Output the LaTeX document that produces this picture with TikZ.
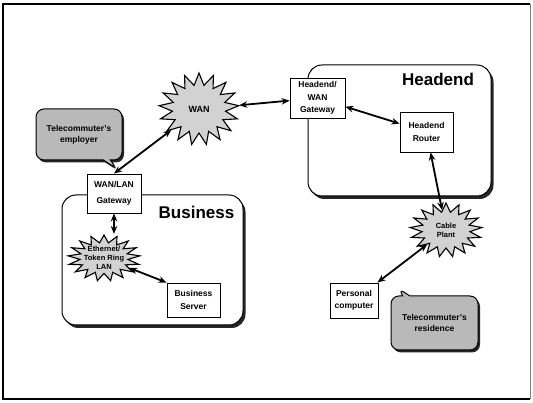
\documentclass[tikz,border=0pt]{standalone}
\usepackage{fontspec}
\setmainfont{Liberation Sans}
\usetikzlibrary{shapes.geometric,shapes.callouts,shadows,arrows.meta}

\begin{document}
\begin{tikzpicture}[x=1pt, y=-1pt,
    box/.style={draw, line width=0.9pt, fill=white, align=center, inner sep=1pt,
      font=\bfseries\fontsize{8.5}{12.5}\selectfont},
    site/.style={draw, line width=1pt, rounded corners=14pt, fill=white,
      drop shadow={shadow xshift=2.5pt, shadow yshift=-3pt, fill=black!85, opacity=1}},
    sitename/.style={font=\bfseries\fontsize{17}{19}\selectfont},
    burst/.style={star, star points=17, star point ratio=1.5, draw, line width=1.1pt,
      fill=gray!35, inner sep=0pt},
    bursttext/.style={align=center, font=\bfseries\fontsize{7.5}{9}\selectfont},
    note/.style={rectangle callout, rounded corners=8pt, draw, line width=1pt, fill=gray!55,
      align=center, font=\bfseries\fontsize{8.5}{11}\selectfont,
      drop shadow={shadow xshift=2pt, shadow yshift=-2.5pt, fill=black!85, opacity=1}},
    link/.style={{Stealth[length=8pt,width=6.5pt]}-{Stealth[length=8pt,width=6.5pt]}, line width=1.8pt}]
  \useasboundingbox (0,0) rectangle (533,403);
  % frame
  \draw[line width=1.2pt] (530,4) -- (3,4) -- (3,399) -- (530,399);
  \draw[gray, line width=0.5pt] (530,4) -- (530,399);

  % sites
  \node[site, minimum width=183pt, minimum height=131pt] (headend) at (399.5,130.5) {};
  \node[sitename] (headend-l) at (438,79) {Headend};
  \node[site, minimum width=181pt, minimum height=130pt] (business) at (152.5,260) {};
  \node[sitename] (business-l) at (196.5,212) {Business};

  % callouts
  \node[note, minimum width=86pt, minimum height=51pt,
    callout absolute pointer={(117,169)}] (worknote) at (79,134.5) {Telecommuter's\\employer};
  \node[note, minimum width=87pt, minimum height=54pt,
    callout absolute pointer={(398,288)}] (homenote) at (434.5,323) {Telecommuter's\\residence};

  % clouds
  \begin{scope}[shift={(199,109)}, yscale=0.9, transform shape]
    \node[burst, minimum size=80pt] (wan) at (0,0) {};
  \end{scope}
  \begin{scope}[shift={(446,230)}, yscale=0.75, transform shape]
    \node[burst, minimum size=72pt] (cable) at (0,0) {};
  \end{scope}
  \begin{scope}[shift={(104,258)}, yscale=0.64, transform shape]
    \node[burst, minimum size=72pt] (lan) at (0,0) {};
  \end{scope}
  \node[bursttext, font=\bfseries\fontsize{9}{11}\selectfont] (wan-t) at (wan) {WAN};
  \node[bursttext] (cable-t) at (cable) {Cable\\Plant};
  \node[bursttext] (lan-t) at (lan) {Ethernet/\\Token Ring\\LAN};

  % devices
  \node[box, minimum width=54pt, minimum height=39pt, font=\bfseries\fontsize{8.5}{16}\selectfont]
    (gw) at (114,193.5) {WAN/LAN\\Gateway};
  \node[box, minimum width=55pt, minimum height=40pt] (hgw) at (317.5,98) {Headend/\\WAN\\Gateway};
  \node[box, minimum width=53pt, minimum height=40pt] (router) at (426.5,132) {Headend\\Router};
  \node[box, minimum width=48pt, minimum height=35pt] (pc) at (354,300.5) {Personal\\computer};
  \node[box, minimum width=53pt, minimum height=34pt] (server) at (193.5,300) {Business\\Server};

  % links
  \draw[link] (gw.north) -- (wan);
  \draw[link] (wan) -- (hgw);
  \draw[link] (hgw) -- (router);
  \draw[link] (router) -- (cable);
  \draw[link] (cable) -- (pc);
  \draw[link] (gw.south) -- (gw.south |- lan.north);
  \draw[link] (lan) -- (server.north west);
\end{tikzpicture}
\end{document}
